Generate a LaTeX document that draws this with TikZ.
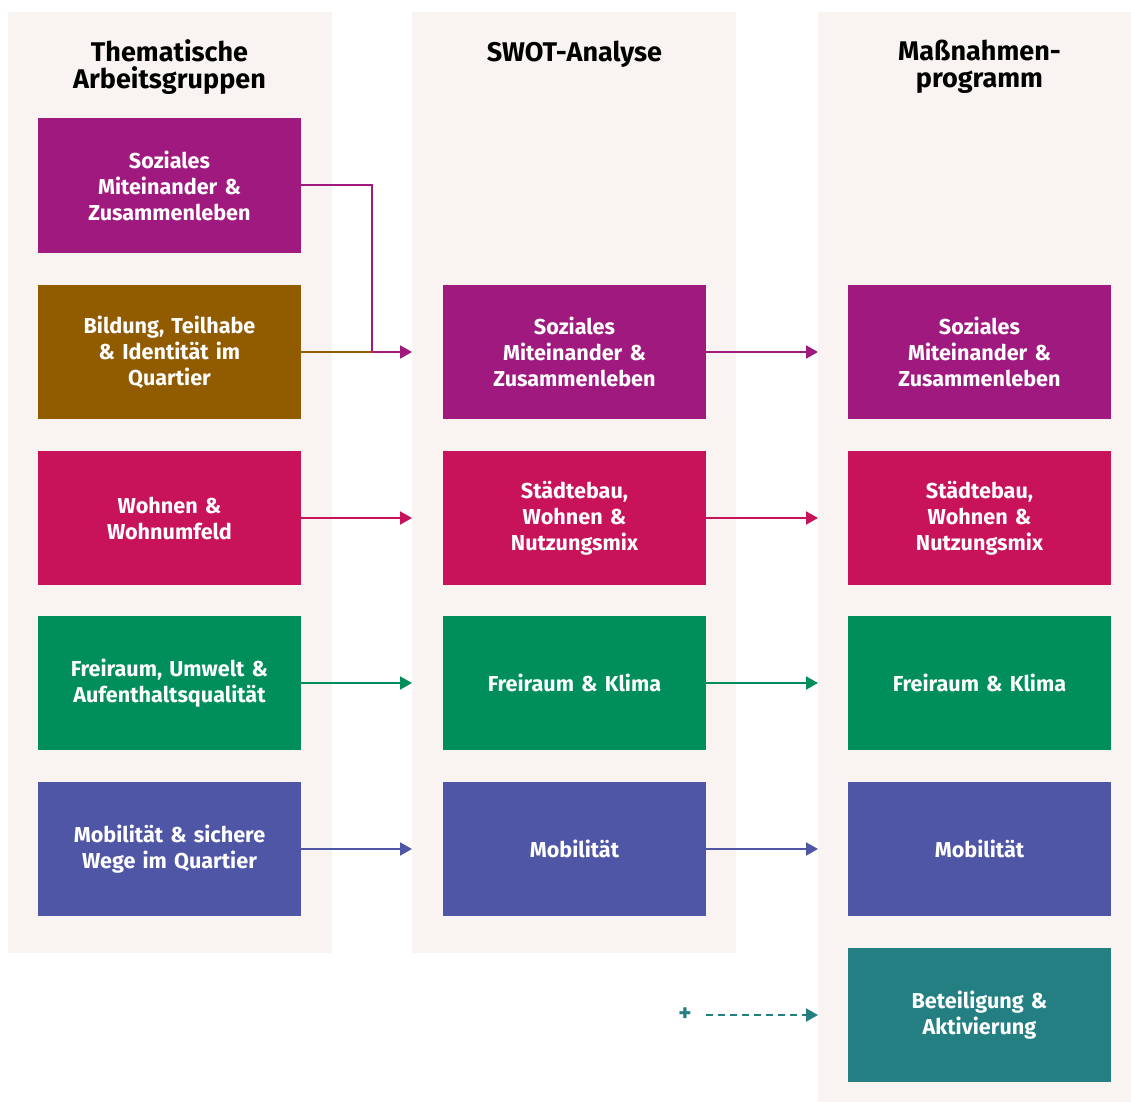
\documentclass[tikz,border=0pt]{standalone}
\usepackage{fontspec}
\setmainfont{Fira Sans}
\usetikzlibrary{arrows.meta}
\definecolor{cbg}{HTML}{F9F4F2}
\definecolor{cmag}{HTML}{A0197F}
\definecolor{cbrown}{HTML}{915B00}
\definecolor{ccrim}{HTML}{C8125A}
\definecolor{cgreen}{HTML}{008F5B}
\definecolor{cblue}{HTML}{4F56A6}
\definecolor{cteal}{HTML}{247F83}
\tikzset{
  colbg/.style={fill=cbg, draw=none},
  topicbox/.style={rectangle, inner sep=0pt, minimum width=131.5pt, minimum height=67pt,
    text width=128pt, align=center, text=white,
    font=\bfseries\fontsize{10.8}{13}\selectfont},
  header/.style={align=center, text=black, font=\bfseries\fontsize{13.5}{13.5}\selectfont},
  conn/.style={line width=1pt, -{Triangle[length=6pt,width=6.5pt]}},
  plain/.style={line width=1pt},
}
\begin{document}
\begin{tikzpicture}[x=0.5pt,y=-0.5pt]
\useasboundingbox (0,0) rectangle (1131,1102);
\fill[white] (0,0) rectangle (1131,1102);
% column backgrounds
\path[colbg] (8,12) rectangle (332,953);
\path[colbg] (412,12) rectangle (736,953);
\path[colbg] (818,12) rectangle (1131,1102);
\coordinate (bgB) at (412,0);
\coordinate (bgC) at (818,0);
\coordinate (j) at (372,0);
% headers
\node[header] (h1) at (169.5,67) {Thematische\\Arbeitsgruppen};
\node[header] (h2) at (574.5,54) {SWOT-Analyse};
\node[header] (h3) at (979.5,67) {Maßnahmen-\\programm};
% column 1
\node[topicbox, fill=cmag]   (a1) at (169.5,185.5) {Soziales\\Miteinander \&\\Zusammenleben};
\node[topicbox, fill=cbrown] (a2) at (169.5,352) {Bildung, Teilhabe\\\& Identität im\\Quartier};
\node[topicbox, fill=ccrim]  (a3) at (169.5,518) {Wohnen \&\\Wohnumfeld};
\node[topicbox, fill=cgreen] (a4) at (169.5,683) {Freiraum, Umwelt \&\\Aufenthaltsqualität};
\node[topicbox, fill=cblue]  (a5) at (169.5,849) {Mobilität \& sichere\\Wege im Quartier};
% column 2
\node[topicbox, fill=cmag]   (b1) at (574.5,352) {Soziales\\Miteinander \&\\Zusammenleben};
\node[topicbox, fill=ccrim]  (b2) at (574.5,518) {Städtebau,\\Wohnen \&\\Nutzungsmix};
\node[topicbox, fill=cgreen] (b3) at (574.5,683) {Freiraum \& Klima};
\node[topicbox, fill=cblue]  (b4) at (574.5,849) {Mobilität};
% column 3
\node[topicbox, fill=cmag]   (c1) at (979.5,352) {Soziales\\Miteinander \&\\Zusammenleben};
\node[topicbox, fill=ccrim]  (c2) at (979.5,518) {Städtebau,\\Wohnen \&\\Nutzungsmix};
\node[topicbox, fill=cgreen] (c3) at (979.5,683) {Freiraum \& Klima};
\node[topicbox, fill=cblue]  (c4) at (979.5,849) {Mobilität};
\node[topicbox, fill=cteal]  (c5) at (979.5,1015) {Beteiligung \&\\Aktivierung};
% plus sign
\node[text=cteal, font=\bfseries\fontsize{12.5}{13}\selectfont, inner sep=0pt] (plus) at (685,1015) {+};
% connectors col1 -> col2
\draw[conn, cmag] (a1.east) -- (a1.east -| j) -- (j |- b1.west) -- (bgB |- b1.west);
\draw[plain, cbrown] (a2.east) -- (j |- a2.east);
\draw[conn, ccrim] (a3.east) -- (bgB |- a3.east);
\draw[conn, cgreen] (a4.east) -- (bgB |- a4.east);
\draw[conn, cblue] (a5.east) -- (bgB |- a5.east);
% connectors col2 -> col3
\draw[conn, cmag] (b1.east) -- (bgC |- b1.east);
\draw[conn, ccrim] (b2.east) -- (bgC |- b2.east);
\draw[conn, cgreen] (b3.east) -- (bgC |- b3.east);
\draw[conn, cblue] (b4.east) -- (bgC |- b4.east);
\draw[conn, cteal, dash pattern=on 3.5pt off 2.5pt] (b4.east |- c5.west) -- (bgC |- c5.west);
\end{tikzpicture}
\end{document}
